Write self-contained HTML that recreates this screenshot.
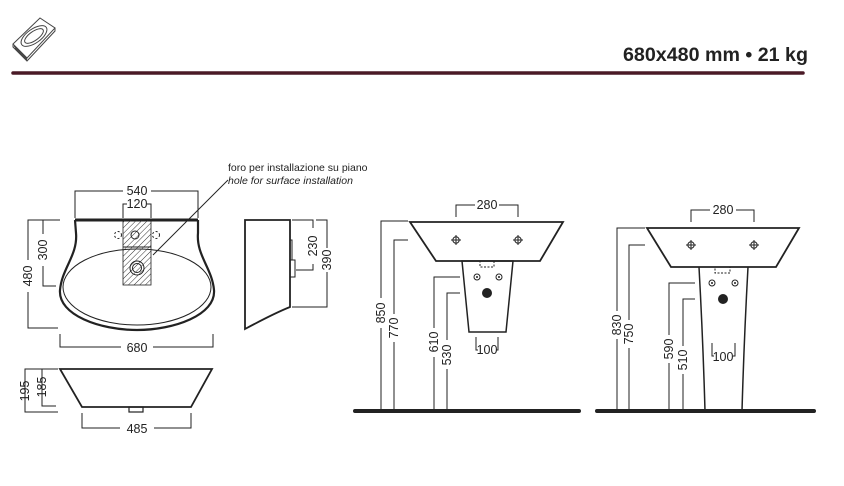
<!DOCTYPE html>
<html><head><meta charset="utf-8"><style>
html,body{margin:0;padding:0;background:#fff;}
svg{display:block;}
text{font-family:"Liberation Sans",sans-serif;fill:#222;}
</style></head><body>
<svg width="844" height="486" viewBox="0 0 844 486" xmlns="http://www.w3.org/2000/svg">
<defs>
<pattern id="h" width="4" height="4" patternUnits="userSpaceOnUse" patternTransform="rotate(45)">
<line x1="0" y1="0" x2="0" y2="4" stroke="#333" stroke-width="1"/>
</pattern>
</defs>
<g fill="none" stroke="#444" stroke-width="1">
<polygon points="13,44 40,18 55,28 27,58"/>
<polyline points="13,44 13,47 27,61 55,31 55,28"/>
<line x1="14" y1="46" x2="27" y2="59"/><line x1="15" y1="48" x2="27" y2="60"/>
<ellipse cx="34" cy="36" rx="15" ry="7" transform="rotate(-35 34 36)"/>
<ellipse cx="34" cy="36" rx="11" ry="4.5" transform="rotate(-35 34 36)"/>
</g>
<text x="808" y="61" text-anchor="end" font-size="19" font-weight="bold" textLength="185" lengthAdjust="spacingAndGlyphs">680x480 mm • 21 kg</text>
<line x1="13" y1="73" x2="803" y2="73" stroke="#4a1a26" stroke-width="3.5" stroke-linecap="round"/>

<g fill="none" stroke="#222" stroke-width="1">
<path d="M75,220 L76,233 C78,255 62,268 60,290 C58,315 100,330 137,330 C174,330 216,315 214,290 C212,268 196,255 198,233 L198,220" stroke-width="2.2"/>
<line x1="75" y1="220" x2="198" y2="220" stroke-width="3"/>
<ellipse cx="137" cy="287" rx="74" ry="38"/>
<rect x="123" y="220" width="28" height="65" fill="url(#h)" stroke-width="0.8"/>
<line x1="123" y1="247" x2="151" y2="247"/>
<circle cx="137" cy="268" r="7"/><circle cx="137" cy="268" r="4.5"/>
<circle cx="135" cy="235" r="4"/>
<circle cx="118" cy="235" r="3.5" stroke-dasharray="2,2"/>
<circle cx="156" cy="235" r="3.5" stroke-dasharray="2,2"/>
<polyline points="75,218 75,191 123,191"/><polyline points="151,191 198,191 198,218"/>
<polyline points="123,218 123,204 127,204"/><polyline points="147,204 151,204 151,218"/>
<polyline points="60,220 28,220 28,260"/><polyline points="28,292 28,328 58,328"/>
<polyline points="56,220 43,220 43,234"/><polyline points="43,266 43,286 56,286"/>
<polyline points="60,334 60,347 121,347"/><polyline points="153,347 213,347 213,334"/>
<line x1="153" y1="255" x2="228" y2="180"/>
<polygon points="60,369 212,369 191,407 82,407" stroke-width="1.8"/>
<rect x="129" y="407" width="14" height="5" stroke-width="1.2"/>
<polyline points="58,369 25,369 25,412 58,412"/>
<polyline points="58,369 42,369 42,406 56,406"/>
<polyline points="82,413 82,428 120,428"/><polyline points="154,428 191,428 191,413"/>
<path d="M245,220 L290,220 L290,307 C275,313 258,322 245,329 Z" stroke-width="1.8"/>
<rect x="290" y="240" width="2" height="20"/><rect x="290" y="260" width="5" height="17"/>
<polyline points="292,220 313,220 313,228"/><polyline points="313,264 313,270 296,270"/>
<polyline points="316,220 327,220 327,248"/><polyline points="327,272 327,307 292,307"/>
<polygon points="410,222 563,222 540,261 436,261" stroke-width="1.8"/>
<polygon points="462,261 513,261 506,332 469,332" stroke-width="1.5"/>
<rect x="480" y="261" width="14" height="6" stroke-dasharray="2,1.5"/>
<circle cx="477" cy="277" r="3"/><circle cx="499" cy="277" r="3"/>
<polyline points="456,217 456,205 475,205"/><polyline points="499,205 518,205 518,217"/>
<polyline points="408,221 381,221 381,298"/><line x1="381" y1="328" x2="381" y2="411"/>
<polyline points="408,240 394,240 394,314"/><line x1="394" y1="342" x2="394" y2="411"/>
<polyline points="460,277 434,277 434,328"/><line x1="434" y1="357" x2="434" y2="411"/>
<polyline points="460,293 447,293 447,340"/><line x1="447" y1="369" x2="447" y2="411"/>
<polyline points="476,337 476,350 478,350"/><polyline points="496,350 498,350 498,337"/>
<polygon points="647,228 799,228 776,267 671,267" stroke-width="1.8"/>
<path d="M699,267 Q703,340 705,411 M748,267 Q744,340 742,411" stroke-width="1.5"/>
<rect x="715" y="267" width="15" height="6" stroke-dasharray="2,1.5"/>
<circle cx="712" cy="283" r="3"/><circle cx="735" cy="283" r="3"/>
<polyline points="691,222 691,210 710,210"/><polyline points="736,210 754,210 754,222"/>
<polyline points="645,228 617,228 617,311"/><line x1="617" y1="339" x2="617" y2="411"/>
<polyline points="645,245 629,245 629,320"/><line x1="629" y1="348" x2="629" y2="411"/>
<polyline points="695,283 669,283 669,335"/><line x1="669" y1="363" x2="669" y2="411"/>
<polyline points="695,299 683,299 683,346"/><line x1="683" y1="374" x2="683" y2="411"/>
<polyline points="712,343 712,356 714,356"/><polyline points="733,356 735,356 735,343"/>
</g>
<g fill="#222">
<circle cx="477" cy="277" r="1"/><circle cx="499" cy="277" r="1"/>
<circle cx="487" cy="293" r="5"/>
<circle cx="712" cy="283" r="1"/><circle cx="735" cy="283" r="1"/>
<circle cx="723" cy="299" r="5"/>
</g>
<g stroke="#222" stroke-width="1" fill="none">
<circle cx="456" cy="240" r="3.2"/><line x1="451" y1="240" x2="461" y2="240"/><line x1="456" y1="235" x2="456" y2="245"/>
<circle cx="518" cy="240" r="3.2"/><line x1="513" y1="240" x2="523" y2="240"/><line x1="518" y1="235" x2="518" y2="245"/>
<circle cx="691" cy="245" r="3.2"/><line x1="686" y1="245" x2="696" y2="245"/><line x1="691" y1="240" x2="691" y2="250"/>
<circle cx="754" cy="245" r="3.2"/><line x1="749" y1="245" x2="759" y2="245"/><line x1="754" y1="240" x2="754" y2="250"/>
</g>
<line x1="355" y1="411" x2="579" y2="411" stroke="#222" stroke-width="4" stroke-linecap="round"/>
<line x1="597" y1="411" x2="814" y2="411" stroke="#222" stroke-width="4" stroke-linecap="round"/>

<g font-size="12.5">
<text x="137" y="195" text-anchor="middle">540</text>
<text x="137" y="208" text-anchor="middle">120</text>
<text x="137" y="352" text-anchor="middle">680</text>
<text x="137" y="433" text-anchor="middle">485</text>
<text x="487" y="209" text-anchor="middle">280</text>
<text x="487" y="354" text-anchor="middle">100</text>
<text x="723" y="214" text-anchor="middle">280</text>
<text x="723" y="361" text-anchor="middle">100</text>
<text transform="translate(32,276) rotate(-90)" text-anchor="middle">480</text>
<text transform="translate(47,250) rotate(-90)" text-anchor="middle">300</text>
<text transform="translate(29,391) rotate(-90)" text-anchor="middle">195</text>
<text transform="translate(46,387) rotate(-90)" text-anchor="middle">185</text>
<text transform="translate(317,246) rotate(-90)" text-anchor="middle">230</text>
<text transform="translate(331,260) rotate(-90)" text-anchor="middle">390</text>
<text transform="translate(385,313) rotate(-90)" text-anchor="middle">850</text>
<text transform="translate(398,328) rotate(-90)" text-anchor="middle">770</text>
<text transform="translate(438,342) rotate(-90)" text-anchor="middle">610</text>
<text transform="translate(451,355) rotate(-90)" text-anchor="middle">530</text>
<text transform="translate(621,325) rotate(-90)" text-anchor="middle">830</text>
<text transform="translate(633,334) rotate(-90)" text-anchor="middle">750</text>
<text transform="translate(673,349) rotate(-90)" text-anchor="middle">590</text>
<text transform="translate(687,360) rotate(-90)" text-anchor="middle">510</text>
</g>
<text x="228" y="171" font-size="10.5">foro per installazione su piano</text>
<text x="228" y="184" font-size="10.5" font-style="italic">hole for surface installation</text>
</svg>
</body></html>
